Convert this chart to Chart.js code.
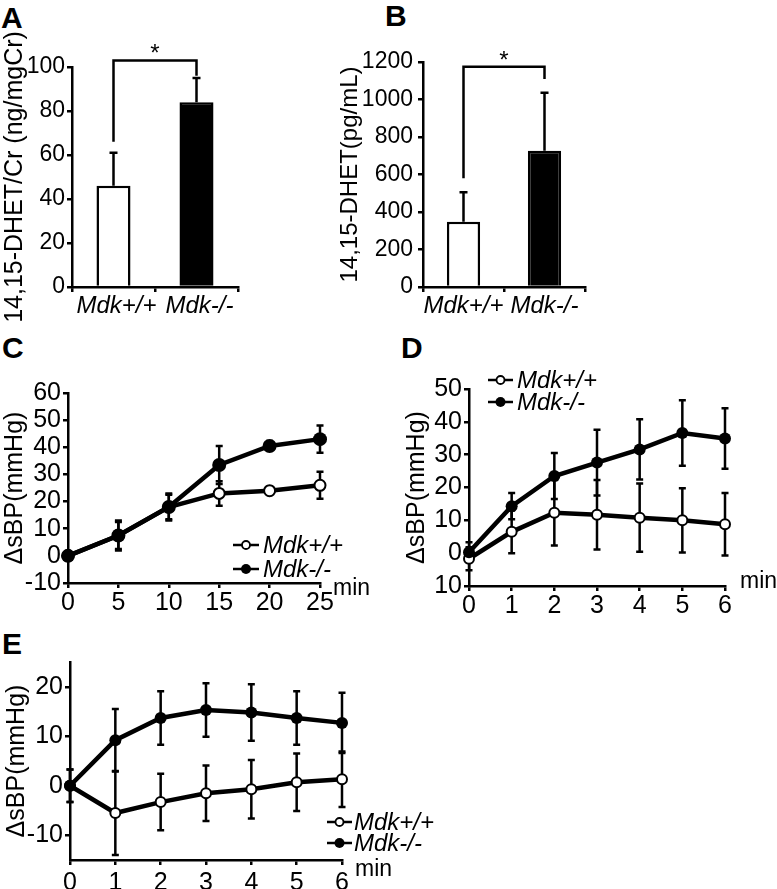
<!DOCTYPE html>
<html><head><meta charset="utf-8">
<script src="https://cdn.jsdelivr.net/npm/chart.js@4/dist/chart.umd.min.js"></script>
<style>
body{margin:0;background:#fff;width:777px;height:889px;position:relative;overflow:hidden;font-family:'Liberation Sans',Arial,sans-serif}
canvas{position:absolute}
.lbl{position:absolute;font-weight:bold;font-size:30px;line-height:1;color:#000}
</style></head><body>
<div class="lbl" style="left:1px;top:3px">A</div>
<div class="lbl" style="left:385px;top:1px">B</div>
<div class="lbl" style="left:2px;top:333px">C</div>
<div class="lbl" style="left:401px;top:333px">D</div>
<div class="lbl" style="left:2px;top:629px">E</div>
<canvas id="cA" width="260" height="330" style="left:0;top:0"></canvas>
<canvas id="cB" width="280" height="330" style="left:330px;top:0"></canvas>
<canvas id="cC" width="380" height="300" style="left:0;top:330px"></canvas>
<canvas id="cD" width="377" height="300" style="left:400px;top:330px"></canvas>
<canvas id="cE" width="440" height="249" style="left:0;top:640px"></canvas>
<script>
// ---------- DATA ----------
const barCategories = ['Mdk+/+', 'Mdk-/-'];
const urineDHETMean = [46, 84];
const urineDHETErr = [15, 11];
const plasmaDHETMean = [348, 727];
const plasmaDHETErr = [157, 309];
const urineSigBracket = [103, 66, 96];      // bracket level, left leg end, right leg end
const plasmaSigBracket = [1175, 580, 1110];

const timeC = [0, 5, 10, 15, 20, 25];
const cWildMean = [0, 7.5, 18, 23, 24, 26];
const cWildErr = [0.5, 5, 4.5, 4.5, 1.5, 5];
const cKoMean = [0, 7.5, 18, 33.5, 40.5, 43];
const cKoErr = [0.5, 5.5, 5, 7, 1.8, 5];

const timeDE = [0, 1, 2, 3, 4, 5, 6];
const dWildMean = [-1.7, 6.5, 12.3, 11.7, 10.8, 10, 8.8];
const dWildErr = [3.5, 6.5, 10, 10.6, 10.4, 9.8, 9.5];
const dKoMean = [0.3, 14.3, 23.5, 27.6, 31.6, 36.6, 34.9];
const dKoErr = [3, 4, 7, 10, 9.2, 10, 9.2];

const eWildMean = [0, -5.5, -3.3, -1.5, -0.7, 0.7, 1.3];
const eWildErr = [3.3, 8.5, 5.7, 5.6, 5.9, 5.8, 5.6];
const eKoMean = [0, 9.2, 13.7, 15.3, 14.8, 13.7, 12.7];
const eKoErr = [3.3, 6.3, 5.4, 5.4, 5.7, 5.4, 6.1];

const seriesNames = ['Mdk+/+', 'Mdk-/-'];
const yTicksE = [-10, 0, 10, 20];

// ---------- STYLE / HELPERS ----------
const FONT = "'Liberation Sans', Arial, sans-serif";
Chart.defaults.font.family = FONT;
Chart.defaults.color = '#000';

const errorBarPlugin = {
  id: 'errorBars',
  beforeDatasetsDraw(chart) {
    const ctx = chart.ctx;
    chart.data.datasets.forEach((ds, i) => {
      if (!ds.errorBars) return;
      const meta = chart.getDatasetMeta(i);
      const ys = chart.scales[meta.yAxisID];
      const cap = ds.errorCap || 4;
      ctx.save();
      ctx.strokeStyle = '#000';
      ctx.lineWidth = ds.errorWidth || 2.5;
      ctx.lineCap = 'butt';
      meta.data.forEach((el, j) => {
        const raw = ds.data[j];
        const val = (typeof raw === 'object') ? raw.y : raw;
        const e = ds.errorBars[j];
        const x = el.x;
        const yTop = ys.getPixelForValue(val + e);
        const yBot = ys.getPixelForValue(ds.errorUpOnly ? val : val - e);
        ctx.beginPath();
        ctx.moveTo(x, yTop); ctx.lineTo(x, yBot);
        ctx.moveTo(x - cap, yTop); ctx.lineTo(x + cap, yTop);
        if (!ds.errorUpOnly) { ctx.moveTo(x - cap, yBot); ctx.lineTo(x + cap, yBot); }
        ctx.stroke();
      });
      ctx.restore();
    });
  }
};

const bracketPlugin = {
  id: 'sigBracket',
  afterDatasetsDraw(chart, args, opts) {
    if (!opts || !opts.levels) return;
    const ctx = chart.ctx;
    const xs = chart.scales.x, ys = chart.scales.y;
    const [lvl, l, r] = opts.levels;
    const x1 = xs.getPixelForValue(0), x2 = xs.getPixelForValue(1);
    const yl = ys.getPixelForValue(lvl);
    ctx.save();
    ctx.strokeStyle = '#000'; ctx.lineWidth = 2.5; ctx.lineJoin = 'miter';
    ctx.beginPath();
    ctx.moveTo(x1, ys.getPixelForValue(l));
    ctx.lineTo(x1, yl); ctx.lineTo(x2, yl);
    ctx.lineTo(x2, ys.getPixelForValue(r));
    ctx.stroke();
    ctx.fillStyle = '#000';
    ctx.font = `${opts.fontSize || 22}px ${FONT}`;
    ctx.textAlign = 'center'; ctx.textBaseline = 'alphabetic';
    ctx.fillText(opts.text, (x1 + x2) / 2, yl + (opts.textDy || 0));
    ctx.restore();
  }
};

const decorPlugin = {
  id: 'decor',
  afterDraw(chart, args, opts) {
    if (!opts) return;
    const ctx = chart.ctx;
    ctx.save();
    if (opts.legend) {
      const L = opts.legend;
      chart.data.datasets.slice().sort((a, b) => a.legendOrder - b.legendOrder).forEach((ds, k) => {
        const y = L.y + k * L.dy;
        ctx.strokeStyle = '#000'; ctx.lineWidth = 2.5;
        ctx.beginPath(); ctx.moveTo(L.x, y); ctx.lineTo(L.x + L.len, y); ctx.stroke();
        ctx.beginPath();
        ctx.arc(L.x + L.len / 2, y, ds.legendOpen ? L.r : L.r + 1, 0, Math.PI * 2);
        ctx.fillStyle = ds.legendOpen ? '#fff' : '#000';
        ctx.fill();
        if (ds.legendOpen) { ctx.lineWidth = 1.8; ctx.stroke(); }
        ctx.fillStyle = '#000';
        ctx.font = `italic ${L.fontSize}px ${FONT}`;
        ctx.textAlign = 'left'; ctx.textBaseline = 'middle';
        ctx.fillText(ds.label, L.x + L.len + L.gap, y + 1);
      });
    }
    if (opts.unit) {
      const U = opts.unit;
      ctx.fillStyle = '#000';
      ctx.font = `${U.fontSize}px ${FONT}`;
      ctx.textAlign = 'left'; ctx.textBaseline = 'middle';
      ctx.fillText(U.text, U.x, U.y);
    }
    ctx.restore();
  }
};

function fixW(w) { return (s) => { s.width = w; }; }
function fixH(h) { return (s) => { s.height = h; }; }

function barChart(id, means, errs, yMax, yStep, title, sig, geom) {
  return new Chart(document.getElementById(id), {
    type: 'bar',
    data: {
      labels: barCategories,
      datasets: [{
        data: means,
        backgroundColor: ['#fff', '#000'],
        borderColor: '#000',
        borderWidth: 2.5,
        borderSkipped: 'bottom',
        barPercentage: geom.bp,
        categoryPercentage: 1,
        errorBars: errs, errorUpOnly: true, errorCap: 4
      }]
    },
    options: {
      responsive: false, animation: false, devicePixelRatio: 1,
      layout: { padding: { left: 0, top: geom.top, right: geom.right, bottom: 0 } },
      plugins: { legend: { display: false }, tooltip: { enabled: false },
        sigBracket: { levels: sig, text: '*', fontSize: 24, textDy: 1 } },
      scales: {
        x: {
          type: 'category', offset: true,
          grid: { offset: true, drawOnChartArea: false, drawTicks: true, tickLength: 5, color: '#000', lineWidth: 2.5 },
          border: { display: true, color: '#000', width: 2.5 },
          ticks: { font: { size: 24, style: 'italic' }, padding: 0, maxRotation: 0, autoSkip: false, color: '#000',
            labelOffset: geom.labelOffset || 0 },
          afterFit: fixH(geom.xh)
        },
        y: {
          min: 0, max: yMax,
          ticks: { stepSize: yStep, autoSkip: false, font: { size: geom.tickSize }, padding: geom.tickPad, color: '#000',
            callback: (v) => String(v) },
          grid: { drawOnChartArea: false, drawTicks: true, tickLength: 5, color: '#000', lineWidth: 2.5 },
          border: { display: true, color: '#000', width: 2.5 },
          title: { display: true, text: title, font: { size: geom.titleSize }, padding: { top: geom.titlePad, bottom: 0 }, color: '#000' },
          afterFit: fixW(geom.yw)
        }
      }
    },
    plugins: [errorBarPlugin, bracketPlugin]
  });
}

function lineChart(id, xs, wild, wildErr, ko, koErr, cfg) {
  const mk = (xv, yv) => xv.map((x, i) => ({ x: x, y: yv[i] }));
  return new Chart(document.getElementById(id), {
    type: 'line',
    data: {
      datasets: [
        { label: seriesNames[1], data: mk(xs, ko), borderColor: '#000', backgroundColor: '#000',
          borderWidth: cfg.lw, pointRadius: cfg.rFill, pointBorderWidth: 0, pointBackgroundColor: '#000',
          tension: 0, clip: false, errorBars: koErr, errorCap: 3.5, legendOrder: 1, legendOpen: false },
        { label: seriesNames[0], data: mk(xs, wild), borderColor: '#000', backgroundColor: '#fff',
          borderWidth: cfg.lw, pointRadius: cfg.rOpen, pointBorderWidth: 2, pointBackgroundColor: '#fff', pointBorderColor: '#000',
          tension: 0, clip: false, errorBars: wildErr, errorCap: 3.5, legendOrder: 0, legendOpen: true }
      ]
    },
    options: {
      responsive: false, animation: false, devicePixelRatio: 1,
      layout: { padding: { left: 0, top: cfg.top, right: cfg.right, bottom: 0 } },
      plugins: { legend: { display: false }, tooltip: { enabled: false },
        decor: { legend: cfg.legend, unit: cfg.unit } },
      scales: {
        x: {
          type: 'linear', min: xs[0], max: xs[xs.length - 1],
          ticks: { stepSize: xs[1] - xs[0], autoSkip: false, font: { size: cfg.tickSize }, padding: cfg.xPad, color: '#000', maxRotation: 0 },
          grid: { drawOnChartArea: false, drawTicks: true, tickLength: 5, color: '#000', lineWidth: 2.5 },
          border: { display: true, color: '#000', width: 2.5 },
          afterFit: fixH(cfg.xh)
        },
        y: {
          min: cfg.yMin, max: cfg.yMax,
          afterBuildTicks: cfg.yTicks ? (s) => { s.ticks = cfg.yTicks.map(v => ({ value: v })); } : undefined,
          ticks: { stepSize: 10, autoSkip: false, font: { size: cfg.tickSize }, padding: 2, color: '#000',
            callback: cfg.tickLabel || ((v) => String(v)) },
          grid: { drawOnChartArea: false, drawTicks: true, tickLength: 5, color: '#000', lineWidth: 2.5 },
          border: { display: true, color: '#000', width: 2.5 },
          title: { display: true, text: 'ΔsBP(mmHg)', font: { size: cfg.titleSize }, padding: { top: cfg.titlePad, bottom: 0 }, color: '#000' },
          afterFit: fixW(cfg.yw)
        }
      }
    },
    plugins: [errorBarPlugin, decorPlugin]
  });
}

// ---------- PANELS ----------
barChart('cA', urineDHETMean, urineDHETErr, 100, 20, '14,15-DHET/Cr (ng/mgCr)', urineSigBracket,
  { top: 67, right: 22, xh: 43, yw: 72, bp: 0.41, tickSize: 23, tickPad: 2, titleSize: 25, titlePad: 0, labelOffset: 3 });
barChart('cB', plasmaDHETMean, plasmaDHETErr, 1200, 200, '14,15-DHET(pg/mL)', plasmaSigBracket,
  { top: 62, right: 25, xh: 43, yw: 93, bp: 0.41, tickSize: 23, tickPad: 5, titleSize: 24, titlePad: 6 });

lineChart('cC', timeC, cWildMean, cWildErr, cKoMean, cKoErr, {
  top: 63, right: 60, xh: 47, yw: 68, yMin: -10, yMax: 60, tickSize: 25, xPad: 0,
  titleSize: 25, titlePad: 0, lw: 4.5, rFill: 7, rOpen: 5.5,
  legend: { x: 233, y: 215, dy: 24, len: 26, r: 4, gap: 4, fontSize: 24 },
  unit: { text: 'min', x: 333, y: 259, fontSize: 23 }
});
lineChart('cD', timeDE, dWildMean, dWildErr, dKoMean, dKoErr, {
  top: 59, right: 52, xh: 44, yw: 69, yMin: -10, yMax: 50, tickSize: 25, xPad: 0,
  titleSize: 25, titlePad: 2, lw: 4.5, rFill: 6, rOpen: 5,
  tickLabel: (v) => String(Math.abs(v)),
  legend: { x: 88, y: 50, dy: 22, len: 25, r: 4, gap: 4, fontSize: 24 },
  unit: { text: 'min', x: 340, y: 252, fontSize: 23 }
});
lineChart('cE', timeDE, eWildMean, eWildErr, eKoMean, eKoErr, {
  top: 22, right: 98, xh: 29, yw: 70, yMin: -15, yMax: 25, yTicks: yTicksE, tickSize: 25, xPad: 3,
  titleSize: 25, titlePad: 2, lw: 4.5, rFill: 6, rOpen: 5,
  legend: { x: 327, y: 182, dy: 21, len: 25, r: 4, gap: 2, fontSize: 24 },
  unit: { text: 'min', x: 355, y: 230, fontSize: 23 }
});
</script>
</body></html>
